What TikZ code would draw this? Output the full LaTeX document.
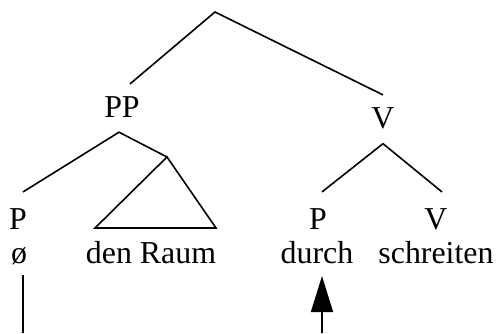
\documentclass[tikz,border=0pt]{standalone}
\usepackage{fontspec}
\setmainfont{Liberation Serif}
\usetikzlibrary{arrows.meta}

\begin{document}
\begin{tikzpicture}[
    x=1bp, y=1bp,
    lbl/.style={anchor=base, inner sep=0pt, font=\fontsize{32}{38}\selectfont},
    branch/.style={line width=1.6bp},
    move/.style={line width=1.6bp, -{Triangle[length=36bp,width=22bp]}}
]
\useasboundingbox (0,0) rectangle (500,333);

% category labels and words
\node[lbl] (pp) at (122,216) {PP};
\node[lbl] (v) at (383,205) {V};
\node[lbl] (p1) at (18,104) {P};
\node[lbl] (null) at (19,70) {ø};
\node[lbl] (np) at (151,70) {den Raum};
\node[lbl] (p2) at (318,104) {P};
\node[lbl] (durch) at (317,70) {durch};
\node[lbl] (v2) at (436,104) {V};
\node[lbl] (verb) at (436,70) {schreiten};

% branching points
\coordinate (root) at (215,321);
\coordinate (pp-top) at ([xshift=8bp,yshift=12bp]pp.north);
\coordinate (v-top) at ([yshift=12bp]v.north);
\coordinate (pp-low) at ([xshift=-3bp,yshift=-15bp]pp.south);
\coordinate (v-low) at ([yshift=-15bp]v.south);
\coordinate (p1-top) at ([xshift=5bp,yshift=16bp]p1.north);
\coordinate (p2-top) at ([xshift=4bp,yshift=16bp]p2.north);
\coordinate (v2-top) at ([xshift=6bp,yshift=16bp]v2.north);
\coordinate (np-top) at (167,176);
\coordinate (np-left) at (95,105);
\coordinate (np-right) at (216,105);

% tree
\draw[branch] (pp-top) -- (root) -- (v-top);
\draw[branch] (p1-top) -- (pp-low) -- (np-top);
\draw[branch] (np-top) -- (np-left) -- (np-right) -- cycle;
\draw[branch] (p2-top) -- (v-low) -- (v2-top);

% trace line and movement arrow
\coordinate (null-foot) at (23,0);
\coordinate (durch-foot) at (322,0);
\draw[branch] ([xshift=4bp,yshift=-12bp]null.base) -- (null-foot);
\draw[move] (durch-foot) -- ([xshift=5bp,yshift=-13bp]durch.base);
\end{tikzpicture}
\end{document}
